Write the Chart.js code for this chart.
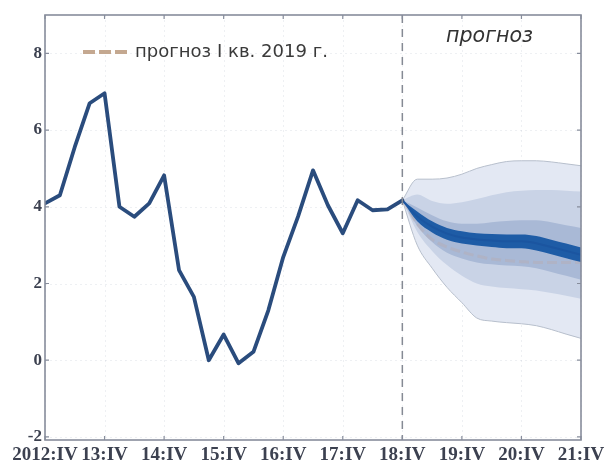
<!DOCTYPE html>
<html><head><meta charset="utf-8">
<script src="https://cdn.jsdelivr.net/npm/chart.js@4/dist/chart.umd.min.js"></script>
<style>html,body{margin:0;padding:0;background:#fff}#wrap{width:609px;height:463px}</style>
</head><body><div id="wrap"><canvas id="c" width="609" height="463"></canvas></div>
<script>
// ---- data ----
const xLabels = ["2012:IV","13:IV","14:IV","15:IV","16:IV","17:IV","18:IV","19:IV","20:IV","21:IV"];
const xTickPos = [0,4,8,12,16,20,24,28,32,36]; // quarter index from 2012:IV
const yTicks = [-2,0,2,4,6,8];
const forecastStart = 24; // 2018:IV

const histQuarters = [0,1,2,3,4,5,6,7,8,9,10,11,12,13,14,15,16,17,18,19,20,21,22,23,24];
const hist = [4.09,4.30,5.56,6.70,6.96,4.00,3.74,4.09,4.82,2.35,1.65,0.00,0.67,-0.08,0.22,1.30,2.69,3.75,4.95,4.04,3.31,4.17,3.91,3.93,4.17];

const fanQuarters = [24,25,26,27,28,29,30,31,32,33,34,35,36];
const center = [4.17,3.75,3.48,3.30,3.20,3.15,3.12,3.10,3.10,3.05,2.95,2.85,2.75];
const coreUp = [4.17,3.88,3.62,3.45,3.36,3.31,3.29,3.28,3.28,3.24,3.14,3.04,2.94];
const coreLo = [4.17,3.62,3.33,3.14,3.04,2.99,2.95,2.92,2.92,2.86,2.76,2.66,2.56];
const b3Up   = [4.17,3.98,3.78,3.62,3.56,3.56,3.60,3.63,3.65,3.65,3.60,3.52,3.45];
const b3Lo   = [4.17,3.50,3.08,2.80,2.65,2.55,2.50,2.47,2.45,2.40,2.30,2.20,2.10];
const b2Up   = [4.17,4.32,4.15,4.08,4.12,4.20,4.30,4.38,4.42,4.44,4.44,4.42,4.40];
const b2Lo   = [4.17,3.35,2.85,2.48,2.20,2.00,1.92,1.88,1.85,1.82,1.75,1.68,1.60];
const b1Up   = [4.17,4.72,4.72,4.75,4.85,5.00,5.10,5.18,5.20,5.20,5.17,5.12,5.07];
const b1Lo   = [4.17,3.00,2.40,1.90,1.50,1.10,1.02,0.98,0.95,0.90,0.80,0.68,0.57];

const prevQuarters = [24,25,26,27,28,29,30,31,32,33,34,35,36];
const prevFc = [4.17,3.55,3.15,2.95,2.82,2.72,2.64,2.60,2.57,2.55,2.55,2.55,2.55];

const legendText = "прогноз I кв. 2019 г.";
const forecastLabel = "прогноз";

// ---- helpers ----
const xy = (qs, vs) => qs.map((q,i)=>({x:q, y:vs[i]}));
const band = (lo, up, color, ordLo, ordUp, edge) => ([
  {data: xy(fanQuarters, lo), borderColor: edge||'rgba(0,0,0,0)', borderWidth: edge?1:0, pointRadius:0, fill:false, order: ordLo, cubicInterpolationMode:'monotone'},
  {data: xy(fanQuarters, up), borderColor: edge||'rgba(0,0,0,0)', borderWidth: edge?1:0, pointRadius:0, fill:'-1', backgroundColor: color, order: ordUp, cubicInterpolationMode:'monotone'}
]);

const datasets = [
  ...band(b1Lo, b1Up, '#e3e8f3', 20, 21, '#b7bfcc'),
  ...band(b2Lo, b2Up, '#c9d3e6', 18, 19),
  ...band(b3Lo, b3Up, '#a9b9d6', 16, 17),
  {data: xy(prevQuarters, prevFc), borderColor:'rgba(196,160,140,0.22)', borderWidth:3, borderDash:[10,4], pointRadius:0, fill:false, order:15, cubicInterpolationMode:'monotone'},
  ...band(coreLo, coreUp, '#1e5ca6', 13, 14),
  {data: xy(fanQuarters, center), borderColor:'#1b55a0', borderWidth:2, pointRadius:0, fill:false, order:12, cubicInterpolationMode:'monotone'},
  {data: xy(histQuarters, hist), borderColor:'#2a4c7d', borderWidth:3.8, pointRadius:0, fill:false, order:1, tension:0, borderJoinStyle:'round', borderCapStyle:'round'}
];

const deco = {
  id:'deco',
  beforeDatasetsDraw(chart){
    const {ctx, chartArea:a, scales:{x,y}} = chart;
    ctx.save();
    ctx.strokeStyle='rgba(150,160,180,0.16)'; ctx.lineWidth=1; ctx.setLineDash([2,3]);
    xTickPos.forEach(v=>{const px=Math.round(x.getPixelForValue(v))+0.5; ctx.beginPath(); ctx.moveTo(px,a.top); ctx.lineTo(px,a.bottom); ctx.stroke();});
    yTicks.forEach(v=>{const py=Math.round(y.getPixelForValue(v))+0.5; ctx.beginPath(); ctx.moveTo(a.left,py); ctx.lineTo(a.right,py); ctx.stroke();});
    ctx.restore();
  },
  afterDatasetsDraw(chart){
    const {ctx, chartArea:a, scales:{x,y}} = chart;
    ctx.save();
    // forecast divider
    const fx = x.getPixelForValue(forecastStart);
    ctx.strokeStyle='#858a94'; ctx.lineWidth=1.5; ctx.setLineDash([8,6]);
    ctx.beginPath(); ctx.moveTo(fx,a.top); ctx.lineTo(fx,a.bottom); ctx.stroke();
    ctx.setLineDash([]);
    // frame
    ctx.strokeStyle='#878d9c'; ctx.lineWidth=1.6;
    ctx.strokeRect(a.left, a.top, a.right-a.left, a.bottom-a.top);
    // inner tick marks
    ctx.lineWidth=1.2;
    xTickPos.forEach(v=>{const px=x.getPixelForValue(v);
      ctx.beginPath(); ctx.moveTo(px,a.top); ctx.lineTo(px,a.top+4); ctx.moveTo(px,a.bottom); ctx.lineTo(px,a.bottom-4); ctx.stroke();});
    yTicks.forEach(v=>{const py=y.getPixelForValue(v);
      ctx.beginPath(); ctx.moveTo(a.left,py); ctx.lineTo(a.left+4,py); ctx.moveTo(a.right,py); ctx.lineTo(a.right-4,py); ctx.stroke();});
    // legend sample
    ctx.strokeStyle='#c4a890'; ctx.lineWidth=4; ctx.setLineDash([12,4]);
    ctx.beginPath(); ctx.moveTo(83,52); ctx.lineTo(130,52); ctx.stroke();
    ctx.setLineDash([]);
    // legend text fitted to width
    let s=16; ctx.font = s+'px "DejaVu Sans"'; let w=ctx.measureText(legendText).width; s = s*193/w;
    ctx.font = s.toFixed(2)+'px "DejaVu Sans"';
    ctx.fillStyle='#3a3a3a'; ctx.textBaseline='middle'; ctx.textAlign='left';
    ctx.fillText(legendText, 135, 52);
    // forecast label
    let s2=18; ctx.font='italic '+s2+'px "DejaVu Sans"'; w=ctx.measureText(forecastLabel).width; s2=s2*87/w;
    ctx.font='italic '+s2.toFixed(2)+'px "DejaVu Sans"';
    ctx.fillStyle='#333'; ctx.fillText(forecastLabel, 446, 37);
    ctx.restore();
  }
};

new Chart(document.getElementById('c'), {
  type:'line',
  data:{datasets},
  options:{
    responsive:false, animation:false, devicePixelRatio:1,
    layout:{padding:{top:15, right:28, left:0, bottom:0}},
    plugins:{legend:{display:false}, tooltip:{enabled:false}},
    scales:{
      x:{type:'linear', min:0, max:36,
        grid:{display:false, drawTicks:false}, border:{display:false},
        afterBuildTicks:s=>{s.ticks = xTickPos.map(v=>({value:v}));},
        afterFit:s=>{s.height=23; s.paddingLeft=0; s.paddingRight=0;},
        ticks:{autoSkip:false, maxRotation:0, padding:4, color:'#3c4150',
          font:{family:'"Liberation Serif"', size:19, weight:'bold'},
          callback:v=>{const i=xTickPos.indexOf(v); return i>=0?xLabels[i]:'';}}
      },
      y:{min:-2.08, max:9,
        grid:{display:false, drawTicks:false}, border:{display:false},
        afterBuildTicks:s=>{s.ticks = yTicks.map(v=>({value:v}));},
        afterFit:s=>{s.width=45; s.paddingTop=0; s.paddingBottom=0;},
        ticks:{padding:3, color:'#3c4150', font:{family:'"Liberation Serif"', size:17, weight:'bold'},
          callback:v=>String(v)}
      }
    }
  },
  plugins:[deco]
});
</script></body></html>
